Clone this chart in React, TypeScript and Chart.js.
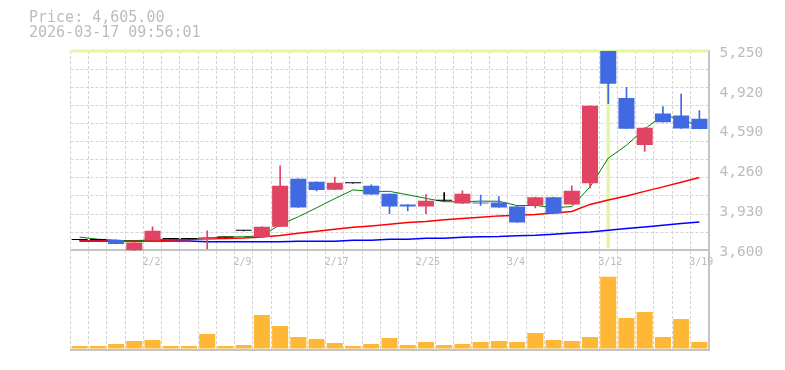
import { useEffect, useRef } from "react";
import { Chart, registerables } from "chart.js";

Chart.register(...registerables);

// ---- data ----
const dates = [
  "1/27", "1/28", "1/29", "1/30", "2/2", "2/3", "2/4", "2/5", "2/6", "2/9",
  "2/10", "2/12", "2/13", "2/16", "2/17", "2/18", "2/19", "2/20", "2/24", "2/25",
  "2/26", "2/27", "3/2", "3/3", "3/4", "3/5", "3/6", "3/9", "3/11", "3/12",
  "3/13", "3/16", "3/17", "3/18", "3/19",
];
const opens = [
  3685, 3685, 3686, 3600, 3682, 3694, 3694, 3689, 3705, 3761,
  3710, 3796, 4192, 4167, 4101, 4156, 4134, 4068, 3979, 3962,
  4010, 3987, 3995, 3995, 3962, 3971, 4040, 3979, 4156, 5250,
  4861, 4472, 4732, 4715, 4690,
];
const highs = [
  3685, 3685, 3686, 3664, 3794, 3694, 3694, 3761, 3705, 3761,
  3794, 4300, 4192, 4167, 4206, 4156, 4142, 4068, 3979, 4062,
  4078, 4092, 4057, 4045, 3962, 4040, 4040, 4134, 4797, 5250,
  4949, 4615, 4789, 4894, 4757,
];
const lows = [
  3685, 3685, 3653, 3600, 3682, 3694, 3694, 3612, 3705, 3761,
  3710, 3796, 3954, 4091, 4101, 4156, 4062, 3904, 3927, 3904,
  4010, 3987, 3971, 3954, 3830, 3951, 3904, 3979, 4115, 4813,
  4606, 4418, 4660, 4609, 4605,
];
const closes = [
  3685, 3685, 3653, 3664, 3762, 3694, 3694, 3705, 3705, 3761,
  3794, 4134, 3954, 4099, 4159, 4156, 4062, 3962, 3962, 4010,
  4010, 4068, 3987, 3954, 3830, 4040, 3904, 4092, 4797, 4979,
  4606, 4615, 4660, 4609, 4605,
];
const volumes = [
  2500, 2500, 4500, 7500, 8500, 2500, 2500, 14500, 2500, 3500,
  33500, 22500, 11500, 9500, 5500, 2500, 4500, 10500, 3500, 6500,
  3500, 4500, 6500, 7500, 6500, 15500, 8500, 7500, 11500, 71800,
  30500, 36500, 11500, 29500, 6500,
];
const ma5 = [
  3709, 3692, 3684, 3676, 3690, 3691, 3693, 3704, 3710, 3712,
  3722, 3812, 3878, 3952, 4028, 4100, 4088, 4088, 4060, 4030,
  4002, 4002, 4007, 4006, 3970, 3972, 3952, 3962, 4125, 4362,
  4470, 4605, 4715, 4690, 4619,
];
const ma25 = [
  3678, 3678, 3679, 3680, 3682, 3685, 3689, 3695, 3698, 3702,
  3710, 3722, 3742, 3757, 3774, 3790, 3802, 3816, 3830, 3838,
  3852, 3863, 3874, 3885, 3891, 3897, 3908, 3921, 3980, 4016,
  4050, 4088, 4125, 4163, 4202,
];
const ma75 = [
  3677, 3677, 3677, 3677, 3677, 3677, 3677, 3670, 3670, 3670,
  3670, 3670, 3675, 3675, 3675, 3684, 3684, 3692, 3692, 3700,
  3700, 3708, 3713, 3714, 3721, 3725, 3733, 3744, 3752, 3766,
  3780, 3793, 3807, 3821, 3834,
];
const priceTicks = [3600, 3930, 4260, 4590, 4920, 5250];
const gridTicks = [3600, 3750, 3900, 4050, 4200, 4350, 4500, 4650, 4800, 4950, 5100, 5250];
const titleLines = ["Price: 4,605.00", "2026-03-17 09:56:01"];

// ---- style ----
const UP = "#e04462";
const DOWN = "#4169e1";
const DOJI = "#000000";
const VOL = "#ffb835";
const HL = "#e3f5a6";
const GRID = "#d4d4d4";
const AXIS = "#c4c4c4";
const TEXT = "#bcbcbc";
const MONO = '"DejaVu Sans Mono", "Liberation Mono", monospace';
const PRICE_MIN = 2774.6;
const PRICE_MAX = 5250;
const BASE_PRICE = 3600;

export default function App() {
  const ref = useRef<HTMLCanvasElement>(null);

  useEffect(() => {
    const canvas = ref.current;
    if (!canvas) return;
    const colors = closes.map((c, i) => (c > opens[i] ? UP : c < opens[i] ? DOWN : DOJI));
    const hiIndex = highs.indexOf(Math.max(...highs));
    const hiPrice = highs[hiIndex];

    const highlightPlugin = {
      id: "highlight",
      beforeDatasetsDraw(chart: any) {
        const { ctx, chartArea, scales } = chart;
        const x = scales.x.getPixelForValue(hiIndex);
        const yTop = scales.y.getPixelForValue(hiPrice);
        const yBase = scales.y.getPixelForValue(BASE_PRICE);
        ctx.save();
        ctx.strokeStyle = HL;
        ctx.lineWidth = 3;
        ctx.beginPath();
        ctx.moveTo(chartArea.left, yTop);
        ctx.lineTo(chartArea.right, yTop);
        ctx.stroke();
        ctx.lineWidth = 3.5;
        ctx.beginPath();
        ctx.moveTo(x, yTop);
        ctx.lineTo(x, yBase - 2);
        ctx.stroke();
        ctx.restore();
      },
    };

    const xLabelPlugin = {
      id: "xLabels",
      afterDraw(chart: any) {
        const { ctx, scales } = chart;
        const xs = scales.x;
        const half = xs.width / dates.length / 2;
        const y = scales.y.getPixelForValue(BASE_PRICE) + 12.5;
        ctx.save();
        ctx.font = `10px ${MONO}`;
        ctx.fillStyle = TEXT;
        ctx.textAlign = "left";
        ctx.textBaseline = "middle";
        dates.forEach((d, i) => {
          if (i % 5 !== 4) return;
          ctx.fillText(d, xs.getPixelForValue(i) - half - 1, y);
        });
        ctx.restore();
      },
    };

    const chart = new Chart(canvas, {
      type: "bar",
      data: {
        labels: dates,
        datasets: [
          {
            type: "bar",
            label: "body",
            data: opens.map((o, i) => [o, closes[i]]) as any,
            backgroundColor: colors,
            yAxisID: "y",
            grouped: false,
            barPercentage: 0.88,
            categoryPercentage: 1,
            minBarLength: 1,
            borderWidth: 0,
            order: 0,
          },
          {
            type: "bar",
            label: "wick",
            data: lows.map((l, i) => [l, highs[i]]) as any,
            backgroundColor: colors,
            yAxisID: "y",
            grouped: false,
            barThickness: 1,
            borderWidth: 0,
            order: 1,
          },
          {
            type: "line",
            label: "MA5",
            data: ma5,
            borderColor: "#008000",
            borderWidth: 1,
            pointRadius: 0,
            tension: 0,
            yAxisID: "y",
            order: 2,
          },
          {
            type: "line",
            label: "MA25",
            data: ma25,
            borderColor: "#ff0000",
            borderWidth: 1.5,
            pointRadius: 0,
            tension: 0,
            yAxisID: "y",
            order: 3,
          },
          {
            type: "line",
            label: "MA75",
            data: ma75,
            borderColor: "#0000ff",
            borderWidth: 1.5,
            pointRadius: 0,
            tension: 0,
            yAxisID: "y",
            order: 4,
          },
          {
            type: "bar",
            label: "Volume",
            data: volumes,
            backgroundColor: VOL,
            yAxisID: "yVol",
            grouped: false,
            barPercentage: 0.88,
            categoryPercentage: 1,
            borderWidth: 0,
            order: 5,
          },
        ],
      },
      options: {
        responsive: false,
        animation: false,
        events: [],
        layout: { padding: { left: 70.5, top: 51, right: 0, bottom: 20 } },
        plugins: { legend: { display: false }, tooltip: { enabled: false } },
        scales: {
          x: {
            type: "category",
            offset: true,
            grid: { offset: true, color: GRID, lineWidth: 1, drawTicks: false },
            border: { display: true, color: AXIS, width: 2, dash: [3, 2] },
            ticks: { display: false },
            afterFit: (s: any) => {
              s.height = 0;
            },
          },
          y: {
            type: "linear",
            position: "right",
            min: PRICE_MIN,
            max: PRICE_MAX,
            bounds: "data",
            afterBuildTicks: (s: any) => {
              s.ticks = priceTicks.map((v) => ({ value: v }));
            },
            grid: { display: false, drawTicks: false },
            border: { display: true, color: AXIS, width: 2 },
            ticks: {
              padding: 11,
              color: TEXT,
              labelOffset: 2,
              font: { family: MONO, size: 14.5 },
              callback: (v: any) => Number(v).toLocaleString("en-US"),
            },
            afterFit: (s: any) => {
              s.width = 76.5;
            },
          },
          yGrid: {
            type: "linear",
            position: "right",
            min: PRICE_MIN,
            max: PRICE_MAX,
            bounds: "data",
            afterBuildTicks: (s: any) => {
              s.ticks = gridTicks.map((v) => ({ value: v }));
            },
            ticks: { display: false },
            grid: {
              drawTicks: false,
              color: (c: any) => (c.tick && c.tick.value === BASE_PRICE ? AXIS : GRID),
              lineWidth: (c: any) => (c.tick && c.tick.value === BASE_PRICE ? 2 : 1),
            },
            border: {
              display: false,
              dash: (c: any) => (c.tick && c.tick.value === BASE_PRICE ? [] : [3, 2]),
            },
            afterFit: (s: any) => {
              s.width = 0;
            },
          },
          yVol: {
            type: "linear",
            display: false,
            min: -1500,
            max: 297500,
          },
        },
      } as any,
      plugins: [highlightPlugin, xLabelPlugin],
    });
    return () => chart.destroy();
  }, []);

  return (
    <div style={{ position: "absolute", left: 0, top: 0, width: 785, height: 370, background: "#fff" }}>
      <div
        style={{
          position: "absolute",
          left: 29,
          top: 10,
          font: `15px ${MONO}`,
          lineHeight: "15px",
          color: TEXT,
          whiteSpace: "pre",
        }}
      >
        {titleLines.map((t) => (
          <div key={t}>{t}</div>
        ))}
      </div>
      <canvas ref={ref} width={785} height={370} style={{ display: "block", width: 785, height: 370 }} />
    </div>
  );
}
